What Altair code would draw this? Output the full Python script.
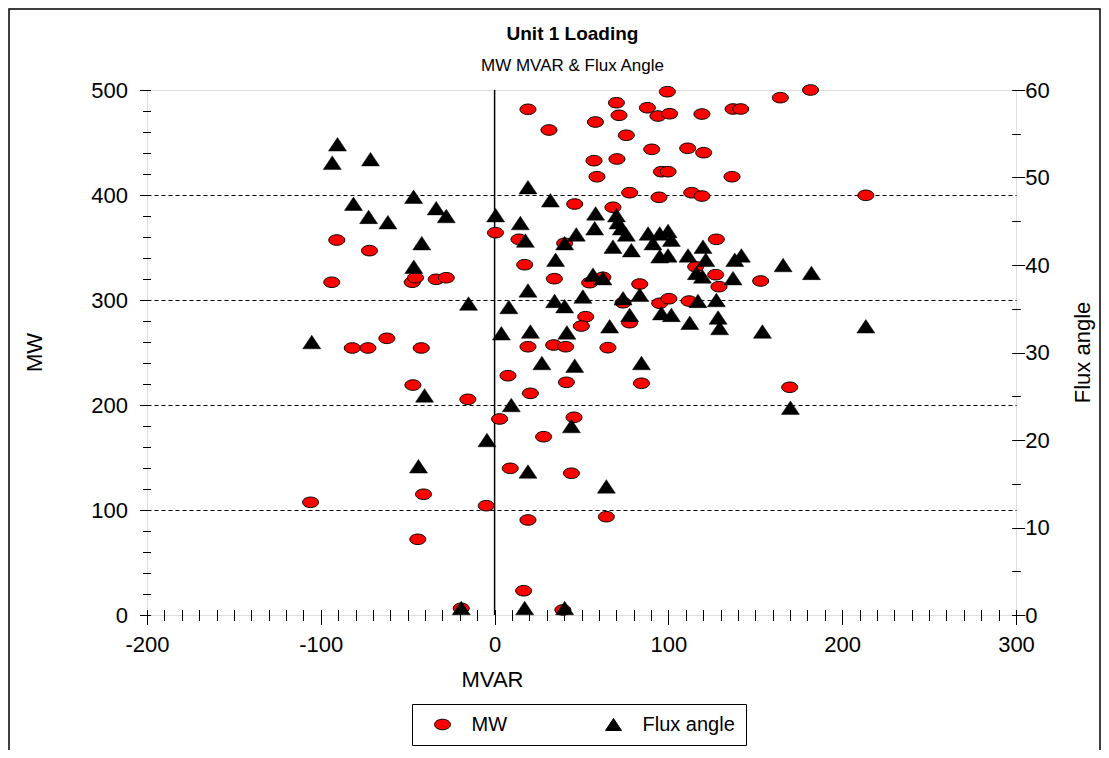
import altair as alt
import pandas as pd

# ---- data ----
mw_mvar = [19.2, 31.3, 70.1, 71.6, 58.0, 75.8, 87.9, 94.0, 100.7, 99.4, 119.3, 137.2, 141.6, 164.4, 181.8,
           90.4, 111.1, 120.3, 57.2, 70.4, 96.0, 99.8, 58.9, 136.6, 77.7, 113.4, 119.3, 94.6, 46.1, 68.1,
           213.6, 0.5, 14.0, 40.3, 127.6, 17.3, 34.4, 115.7, 127.2, 129.1, 153.1, 54.7, 62.3, 83.5, 95.0,
           100.3, 111.9, 73.9, 52.4, 49.9, 77.7, 19.2, 34.0, 40.9, 65.2, -90.8, -72.0, -93.7, -47.4, -45.5,
           -33.6, -27.8, -62.0, -81.9, -72.9, -42.2, -47.0, -15.4, -40.9, -105.9, -4.8, -44.2, -19.2, 7.7,
           41.3, 20.6, 84.5, 2.9, 45.7, 28.2, 9.0, 44.2, 19.2, 64.3, 16.7, 39.3, 169.8]
mw_val = [481.6, 461.9, 487.9, 475.9, 469.5, 456.9, 483.1, 475.2, 477.4, 498.4, 477.1, 481.9, 481.9, 492.7, 500.0,
          443.5, 444.5, 440.3, 432.7, 434.3, 422.2, 422.2, 417.4, 417.4, 402.2, 402.2, 399.0, 397.8, 391.4, 388.3,
          399.7, 364.1, 357.8, 354.0, 357.8, 333.6, 320.3, 331.7, 324.1, 312.7, 318.1, 316.5, 321.6, 315.2, 296.9,
          301.2, 299.0, 297.4, 284.1, 275.2, 278.4, 255.5, 257.1, 255.5, 254.6, 357.1, 347.0, 316.9, 316.9, 321.2,
          319.7, 321.2, 263.5, 254.3, 254.3, 254.3, 219.0, 205.4, 115.0, 107.3, 104.1, 72.1, 6.4, 227.9,
          221.6, 211.1, 220.7, 186.7, 188.3, 169.8, 139.7, 135.0, 90.5, 93.6, 23.1, 4.8, 216.9]

flux_mvar = [-90.4, -93.4, -71.4, -46.6, -81.2, -33.6, -27.8, -72.5, -61.4, -41.9, -46.5, -15.0, -105.2, -40.3,
             -43.8, -4.4, -19.2,
             0.6, 19.2, 32.1, 14.8, 17.7, 47.0, 58.1, 57.6, 70.1, 71.0, 72.9, 75.8, 68.1, 78.7, 88.3, 95.0,
             99.8, 101.7, 91.1, 95.0, 99.8, 111.3, 119.9, 121.5, 116.1, 119.6, 138.2, 142.0, 137.2, 166.0,
             182.3, 40.3, 35.1, 56.6, 62.3, 19.2, 50.8, 34.5, 40.3, 8.2, 73.9, 83.5, 96.0, 101.7, 117.0,
             127.6, 77.7, 128.6, 129.5, 112.3, 66.2, 154.1, 3.9, 20.6, 41.6, 213.6, 46.1, 27.2, 84.5, 9.6,
             44.2, 19.2, 64.3, 17.3, 40.3, 170.2]
flux_val = [53.8, 51.7, 52.1, 47.8, 47.0, 46.5, 45.6, 45.5, 44.9, 42.5, 39.8, 35.6, 31.2, 25.1,
            17.0, 20.0, 0.8,
            45.7, 48.9, 47.4, 44.8, 42.8, 43.5, 45.9, 44.2, 45.7, 44.9, 44.2, 43.5, 42.1, 41.7, 43.6, 43.6,
            43.9, 42.9, 42.5, 41.0, 41.1, 41.1, 42.1, 40.6, 39.1, 38.7, 40.6, 41.1, 38.5, 40.0,
            39.1, 42.5, 40.6, 38.9, 38.5, 37.1, 36.4, 35.9, 35.3, 35.2, 36.2, 36.6, 34.5, 34.3, 35.9,
            36.0, 34.3, 34.0, 32.8, 33.4, 33.0, 32.4, 32.2, 32.4, 32.3, 33.0, 28.5, 28.8, 28.8, 24.0,
            21.6, 16.4, 14.7, 0.8, 0.8, 23.7]

series_names = ["MW", "Flux angle"]
series_colors = ["#FF0000", "#000000"]

ELLIPSE = "M-1,0A1,0.66,0,1,1,1,0A1,0.66,0,1,1,-1,0Z"
TRIANGLE = "M0,-0.75L1,0.75L-1,0.75Z"

FONT = "Liberation Sans"
FS = 22

df_mw = pd.DataFrame({"MVAR": mw_mvar, "MW": mw_val, "series": "MW"})
df_fx = pd.DataFrame({"MVAR": flux_mvar, "Flux": flux_val, "series": "Flux angle"})

legend = alt.Legend(
    title=None, orient="none", legendX=265, legendY=614, direction="horizontal",
    strokeColor="black", fillColor="white", padding=10.5, symbolSize=256,
    symbolStrokeColor="black", symbolStrokeWidth=1, labelFont=FONT, labelFontSize=20,
    labelColor="black", labelOffset=19, columnPadding=86, symbolOffset=10,
)
color = alt.Color("series:N", scale=alt.Scale(domain=series_names, range=series_colors), legend=legend)
shape = alt.Shape("series:N", scale=alt.Scale(domain=series_names, range=[ELLIPSE, TRIANGLE]), legend=legend)

x_scale = alt.Scale(domain=[-200, 300], nice=False, zero=False)
x_axis = alt.Axis(
    title="MVAR", orient="bottom", values=list(range(-200, 301, 10)),
    labelExpr="datum.value % 100 === 0 ? '' + datum.value : ''",
    tickSize={"condition": {"test": "datum.value % 100 === 0", "value": 15}, "value": 11},
    offset=-5.5, domain=False, grid=False, tickColor="black", tickWidth=1,
    labelFont=FONT, labelFontSize=FS, labelColor="black", labelPadding=10, labelBaseline="top",
    labelFlush=False, labelOverlap=False,
    titleFont=FONT, titleFontSize=FS, titleFontWeight="normal", titleColor="black",
    titleX=345, titleY=70, titleBaseline="middle", titleAlign="center",
)


def xenc():
    return alt.X("MVAR:Q", scale=x_scale, axis=x_axis)


zero_line = alt.Chart(pd.DataFrame({"MVAR": [0]})).mark_rule(color="black", strokeWidth=1.5).encode(
    x=xenc()
)

mw_layer = alt.Chart(df_mw).mark_point(filled=True, stroke="black", strokeWidth=1, size=256, opacity=1).encode(
    x=xenc(),
    y=alt.Y(
        "MW:Q",
        scale=alt.Scale(domain=[0, 500], nice=False),
        axis=alt.Axis(
            title="MW", orient="left", values=list(range(0, 501, 20)),
            labelExpr="datum.value % 100 === 0 ? '' + datum.value : ''",
            tickSize={"condition": {"test": "datum.value % 100 === 0", "value": 11}, "value": 8},
            offset=-3.5, domain=False, tickColor="black", tickWidth=1,
            grid=True, gridColor="black", gridDash=[4, 3], gridWidth=1,
            gridOpacity={"condition": {"test": "datum.value % 100 === 0 && datum.value > 0 && datum.value < 500", "value": 1}, "value": 0},
            labelFont=FONT, labelFontSize=FS, labelColor="black", labelPadding=12,
            labelFlush=False, labelOverlap=False, labelBaseline="middle",
            titleFont=FONT, titleFontSize=FS, titleFontWeight="normal", titleColor="black",
            titleAngle=270, titleX=-116, titleY=262, titleBaseline="middle", titleAlign="center",
        ),
    ),
    color=color,
    shape=shape,
)

fx_layer = alt.Chart(df_fx).mark_point(filled=True, stroke="black", strokeWidth=0.5, size=324, opacity=1).encode(
    x=xenc(),
    y=alt.Y(
        "Flux:Q",
        scale=alt.Scale(domain=[0, 60], nice=False),
        axis=alt.Axis(
            title="Flux angle", orient="right", values=list(range(0, 61, 5)),
            labelExpr="datum.value % 10 === 0 ? '' + datum.value : ''",
            tickSize={"condition": {"test": "datum.value % 10 === 0", "value": 13}, "value": 8.7},
            offset=-4.3, domain=False, grid=False, tickColor="black", tickWidth=1,
            labelFont=FONT, labelFontSize=FS, labelColor="black", labelPadding=0,
            labelFlush=False, labelOverlap=False, labelBaseline="middle",
            titleFont=FONT, titleFontSize=FS, titleFontWeight="normal", titleColor="black",
            titleAngle=270, titleX=71, titleY=262, titleBaseline="middle", titleAlign="center",
        ),
    ),
    color=color,
    shape=shape,
)

frame = alt.Chart(pd.DataFrame({"f": [0]})).mark_rect(fillOpacity=0, stroke="black", strokeWidth=1.5).encode(
    x=alt.value(-138), x2=alt.value(953), y=alt.value(-81), y2=alt.value(700)
)

chart = alt.layer(frame, zero_line, mw_layer, fx_layer).resolve_scale(
    y="independent"
).properties(
    width=869, height=525,
    autosize=alt.AutoSizeParams(type="none"),
    padding={"left": 139, "top": 82, "right": 85, "bottom": 135},
    title=alt.TitleParams(
        "Unit 1 Loading", subtitle="MW MVAR & Flux Angle", anchor="middle", frame="group",
        font=FONT, fontSize=19, fontWeight="bold", color="black",
        subtitleFont=FONT, subtitleFontSize=17, subtitleColor="black", subtitlePadding=14,
        offset=16, dx=-9, dy=82,
    ),
).configure_view(stroke="black", strokeWidth=1.2).configure(background="white")

chart.save("out.html", embed_options={"renderer": "svg", "actions": False})
